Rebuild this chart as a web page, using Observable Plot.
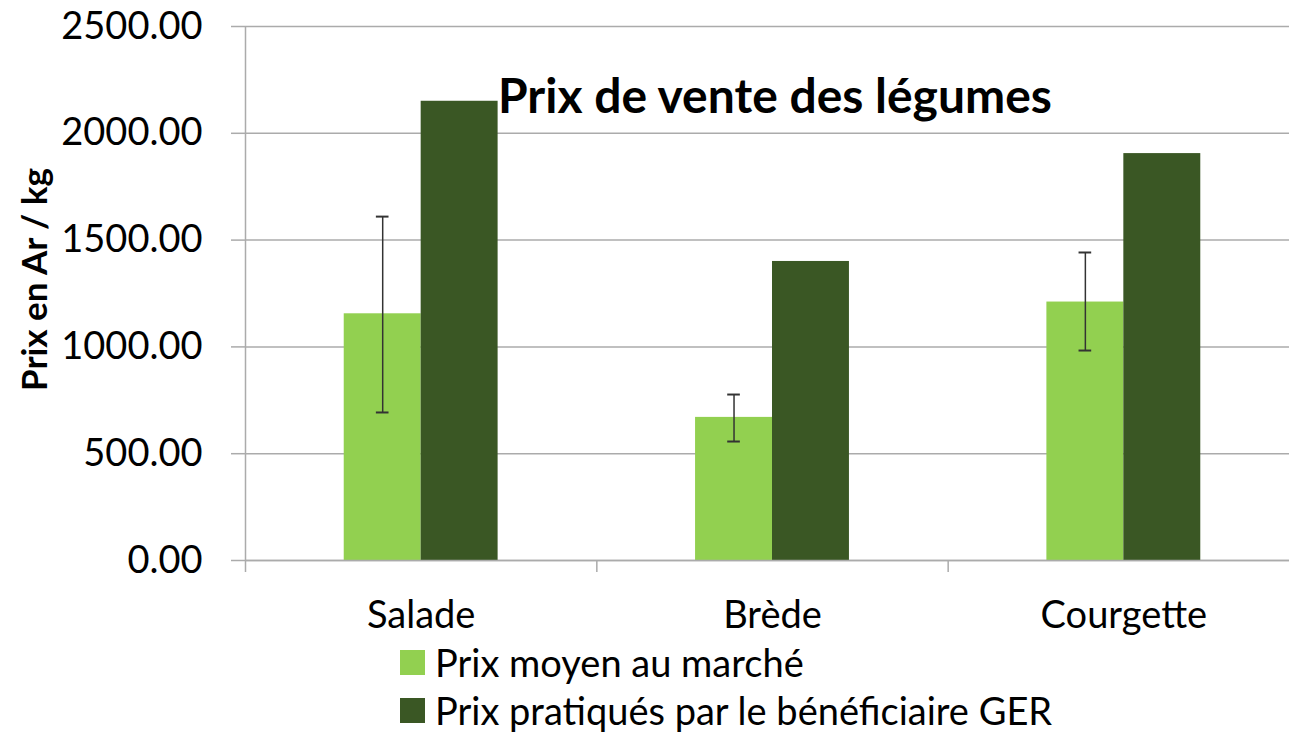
<!DOCTYPE html>
<html>
<head>
<meta charset="utf-8">
<script src="https://cdn.jsdelivr.net/npm/d3@7"></script>
<script src="https://cdn.jsdelivr.net/npm/@observablehq/plot@0.6"></script>
<style>
  html, body { margin: 0; padding: 0; background: #fff; overflow: hidden; width: 1289px; height: 734px; }
  #wrap { position: relative; width: 1289px; height: 734px; overflow: hidden; font-family: Lato, "Open Sans", sans-serif; }
  #chart svg { display: block; max-width: none !important; }
  #title { position: absolute; left: 498px; top: 71px; font-size: 48px; font-weight: bold; color: #000; white-space: nowrap; line-height: 1; }
  .leg { position: absolute; left: 400px; display: flex; align-items: center; font-size: 38px; color: #000; white-space: nowrap; line-height: 1; }
  .sw { width: 25px; height: 25px; margin-right: 10px; }
</style>
</head>
<body>
<div id="wrap">
  <div id="chart"></div>
  <div id="title">Prix de vente des légumes</div>
  <div class="leg" style="top:643px"><span class="sw" style="background:#92D050"></span><span>Prix moyen au marché</span></div>
  <div class="leg" style="top:691px"><span class="sw" style="background:#3A5724"></span><span>Prix pratiqués par le bénéficiaire GER</span></div>
</div>
<script>
// ---- data ----
const categories = ["Salade", "Brède", "Courgette"];
const seriesNames = ["Prix moyen au marché", "Prix pratiqués par le bénéficiaire GER"];
const marketPrice = [1155, 670, 1210];
const gerPrice = [2150, 1400, 1905];
const errLow = [693, 557, 983];
const errHigh = [1610, 777, 1442];
const yTicks = [0, 500, 1000, 1500, 2000, 2500];
const yLabel = "Prix en Ar / kg";

const colors = ["#92D050", "#3A5724"];
const barW = 0.219;   // bar width as a fraction of a category band
const capW = 0.018;   // half width of error caps

const bars = [];
categories.forEach((c, i) => {
  bars.push({cat: c, s: seriesNames[0], x1: i + 0.5 - barW, x2: i + 0.5, v: marketPrice[i]});
  bars.push({cat: c, s: seriesNames[1], x1: i + 0.5, x2: i + 0.5 + barW, v: gerPrice[i]});
});
const errs = categories.map((c, i) => ({c: i + 0.5 - barW / 2, lo: errLow[i], hi: errHigh[i]}));

const font = "Lato, 'Open Sans', sans-serif";
const plot = Plot.plot({
  width: 1299,
  height: 640,
  marginLeft: 245,
  marginRight: 0,
  marginTop: 26,
  marginBottom: 80,
  style: {fontFamily: font, fontSize: "38px", color: "#000", background: "#fff", maxWidth: "none"},
  x: {domain: [0, categories.length], axis: null},
  y: {domain: [0, 2500], axis: null},
  color: {domain: seriesNames, range: colors},
  marks: [
    Plot.gridY(yTicks, {stroke: "#ababab", strokeOpacity: 1, strokeWidth: 1.5}),
    Plot.axisY({ticks: yTicks, tickFormat: d3.format(".2f"), tickSize: 14, tickPadding: 29, stroke: "#ababab", strokeWidth: 1.5, fontSize: 38, label: null}),
    Plot.ruleX([0], {stroke: "#ababab", strokeWidth: 1.5}),
    Plot.axisX({ticks: d3.range(categories.length + 1), tickSize: 12, tickFormat: () => "", stroke: "#ababab", strokeWidth: 1.5, label: null}),
    Plot.axisX({ticks: categories.map((c, i) => i + 0.5), tickSize: 0, tickPadding: 41, tickFormat: d => categories[Math.floor(d)], fontSize: 38, label: null}),
    Plot.rect(bars, {x1: "x1", x2: "x2", y1: 0, y2: "v", fill: "s"}),
    Plot.ruleY([0], {stroke: "#ababab", strokeWidth: 1.5}),
    Plot.ruleX(errs, {x: "c", y1: "lo", y2: "hi", stroke: "#333", strokeWidth: 1.5}),
    Plot.ruleY(errs, {y: "lo", x1: d => d.c - capW, x2: d => d.c + capW, stroke: "#333", strokeWidth: 2}),
    Plot.ruleY(errs, {y: "hi", x1: d => d.c - capW, x2: d => d.c + capW, stroke: "#333", strokeWidth: 2}),
    Plot.text([yLabel], {frameAnchor: "left", textAnchor: "middle", rotate: -90, dx: -210, dy: -14, fontWeight: "bold", fontSize: 35, fill: "#000"})
  ]
});
document.getElementById("chart").appendChild(plot);
</script>
</body>
</html>
